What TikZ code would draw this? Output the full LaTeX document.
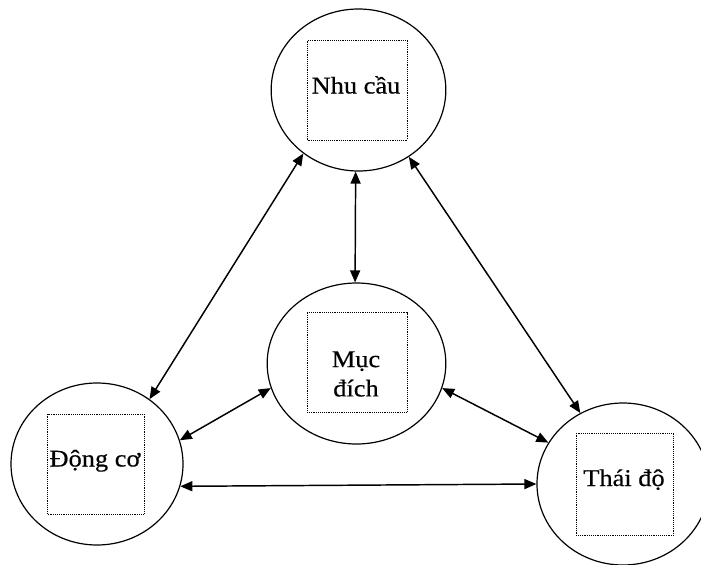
\documentclass[tikz,border=0pt]{standalone}
\usepackage{fontspec}
\setmainfont{Liberation Serif}[FakeStretch=1.1,FakeBold=0.4]
\usetikzlibrary{shapes.geometric}
\usetikzlibrary{arrows.meta}

\begin{document}
\begin{tikzpicture}[x=0.75pt,y=-0.75pt,
    vong/.style={draw,ellipse,line width=0.9pt,inner sep=0pt,minimum width=131pt,minimum height=121.5pt},
    hop/.style={draw,dash pattern=on 0.7pt off 0.7pt,line width=0.75pt,inner sep=0pt,minimum width=75pt,minimum height=75pt},
    chu/.style={font=\fontsize{18}{22}\selectfont,align=center,inner sep=0pt},
    muiten/.style={{Triangle[length=9pt,width=7.5pt]}-{Triangle[length=9pt,width=7.5pt]},line width=1.1pt}]
      \useasboundingbox (0,0) rectangle (701,565);
      \clip (0,0) rectangle (701,565);
      \fill[white] (0,0) rectangle (701,565);
      % the four rings
      \node[vong] (nhu) at (358.5,90) {};
      \node[vong,minimum width=134pt,minimum height=120.75pt] (muc) at (356.5,363.5) {};
      \node[vong,minimum width=129pt] (dong) at (97,464) {};
      \node[vong,minimum width=129pt] (thai) at (623,484) {};
      % dotted boxes
      \node[hop] (nhuhop) at (357.5,90) {};
      \node[hop] (muchop) at (357,362.5) {};
      \node[hop,minimum width=72.5pt] (donghop) at (96,464) {};
      \node[hop,minimum width=73pt,minimum height=77pt] (thaihop) at (624.7,484.5) {};
      \node[chu,anchor=base] at (356,93.5) {Nhu cầu};
      \node[chu] at (356,374) {Mục\\đích};
      \node[chu,anchor=base] at (95,466.5) {Động cơ};
      \node[chu,anchor=base] at (624,486) {Thái độ};
      % arrows
      \draw[muiten] (nhu.268) -- (muc.91);
      \draw[muiten] (nhu.229) -- (dong.51);
      \draw[muiten] (nhu.307) -- (thai.121.5);
      \draw[muiten] (dong.16.4) -- (muc.196.6);
      \draw[muiten] (muc.344.6) -- (thai.151);
      \draw[muiten] (dong.345.8) -- (thai.180.7);
\end{tikzpicture}
\end{document}
